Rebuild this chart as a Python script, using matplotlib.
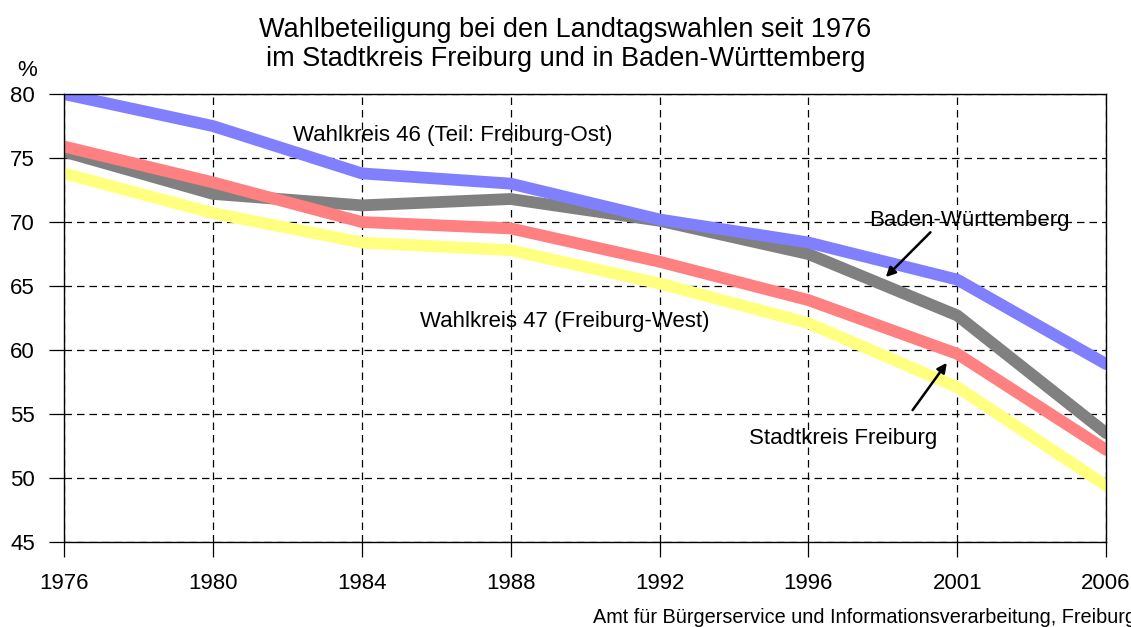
import matplotlib
matplotlib.use("Agg")
import matplotlib.pyplot as plt

plt.rcParams["font.family"] = ["Liberation Sans", "DejaVu Sans"]

years = ["1976", "1980", "1984", "1988", "1992", "1996", "2001", "2006"]

# Wahlbeteiligung in %
wk46_ost = [80.0, 77.5, 73.8, 73.0, 70.2, 68.4, 65.5, 58.9]
baden_wuerttemberg = [75.5, 72.2, 71.3, 71.8, 70.1, 67.5, 62.7, 53.5]
stadtkreis_freiburg = [75.9, 73.1, 70.0, 69.5, 66.9, 63.9, 59.7, 52.2]
wk47_west = [73.8, 70.7, 68.4, 67.8, 65.2, 62.1, 57.1, 49.4]

y_ticks = [45, 50, 55, 60, 65, 70, 75, 80]

x = list(range(len(years)))

fig = plt.figure(figsize=(11.31, 6.27), dpi=100)
ax = fig.add_axes([0.0566, 0.1356, 0.9214, 0.7144])

lw = 8.5
ax.plot(x, wk47_west, color="#ffff80", lw=lw, solid_capstyle="round", solid_joinstyle="round", zorder=3)
ax.plot(x, baden_wuerttemberg, color="#808080", lw=lw, solid_capstyle="round", solid_joinstyle="round", zorder=4)
ax.plot(x, stadtkreis_freiburg, color="#ff8080", lw=lw, solid_capstyle="round", solid_joinstyle="round", zorder=5)
ax.plot(x, wk46_ost, color="#8080ff", lw=lw, solid_capstyle="round", solid_joinstyle="round", zorder=6)

ax.set_xlim(0, len(years) - 1)
ax.set_ylim(45, 80)
ax.set_xticks(x)
ax.set_xticklabels(years)
ax.set_yticks(y_ticks)

ax.grid(True, color="black", linestyle=(0, (6, 4)), linewidth=0.9)
ax.set_axisbelow(True)
for s in ax.spines.values():
    s.set_color("black")
    s.set_linewidth(1.0)
    s.set_zorder(7)

ax.tick_params(axis="both", direction="out", length=11, width=0.9, labelsize=16, colors="black")
ax.tick_params(axis="x", pad=11)
ax.tick_params(axis="y", pad=10)

# title, two lines placed by baseline
fig.text(0.5, 1 - 37 / 627, "Wahlbeteiligung bei den Landtagswahlen seit 1976",
         ha="center", va="baseline", fontsize=19.5)
fig.text(0.5, 1 - 66.5 / 627, "im Stadtkreis Freiburg und in Baden-Württemberg",
         ha="center", va="baseline", fontsize=19.5)
fig.text(0.0236, 1 - 70.5 / 627, "%", ha="center", va="center", fontsize=16)

txt = dict(fontsize=16, color="black", zorder=8)
ax.text(1.54, 76.8, "Wahlkreis 46 (Teil: Freiburg-Ost)", ha="left", va="center", **txt)
ax.text(2.39, 62.2, "Wahlkreis 47 (Freiburg-West)", ha="left", va="center", **txt)
ax.text(5.41, 70.1, "Baden-Württemberg", ha="left", va="center", **txt)
ax.text(4.60, 53.1, "Stadtkreis Freiburg", ha="left", va="center", **txt)

arrow = dict(arrowstyle="-|>", color="black", lw=1.8, mutation_scale=14, shrinkA=0, shrinkB=0)
ax.annotate("", xy=(5.52, 65.7), xytext=(5.82, 69.2), arrowprops=arrow, zorder=8)
ax.annotate("", xy=(5.93, 59.0), xytext=(5.70, 55.3), arrowprops=arrow, zorder=8)

fig.text(1.004, 1 - 623 / 627, "Amt für Bürgerservice und Informationsverarbeitung, Freiburg",
         ha="right", va="baseline", fontsize=14.3)

fig.savefig("out.png", dpi=100)
